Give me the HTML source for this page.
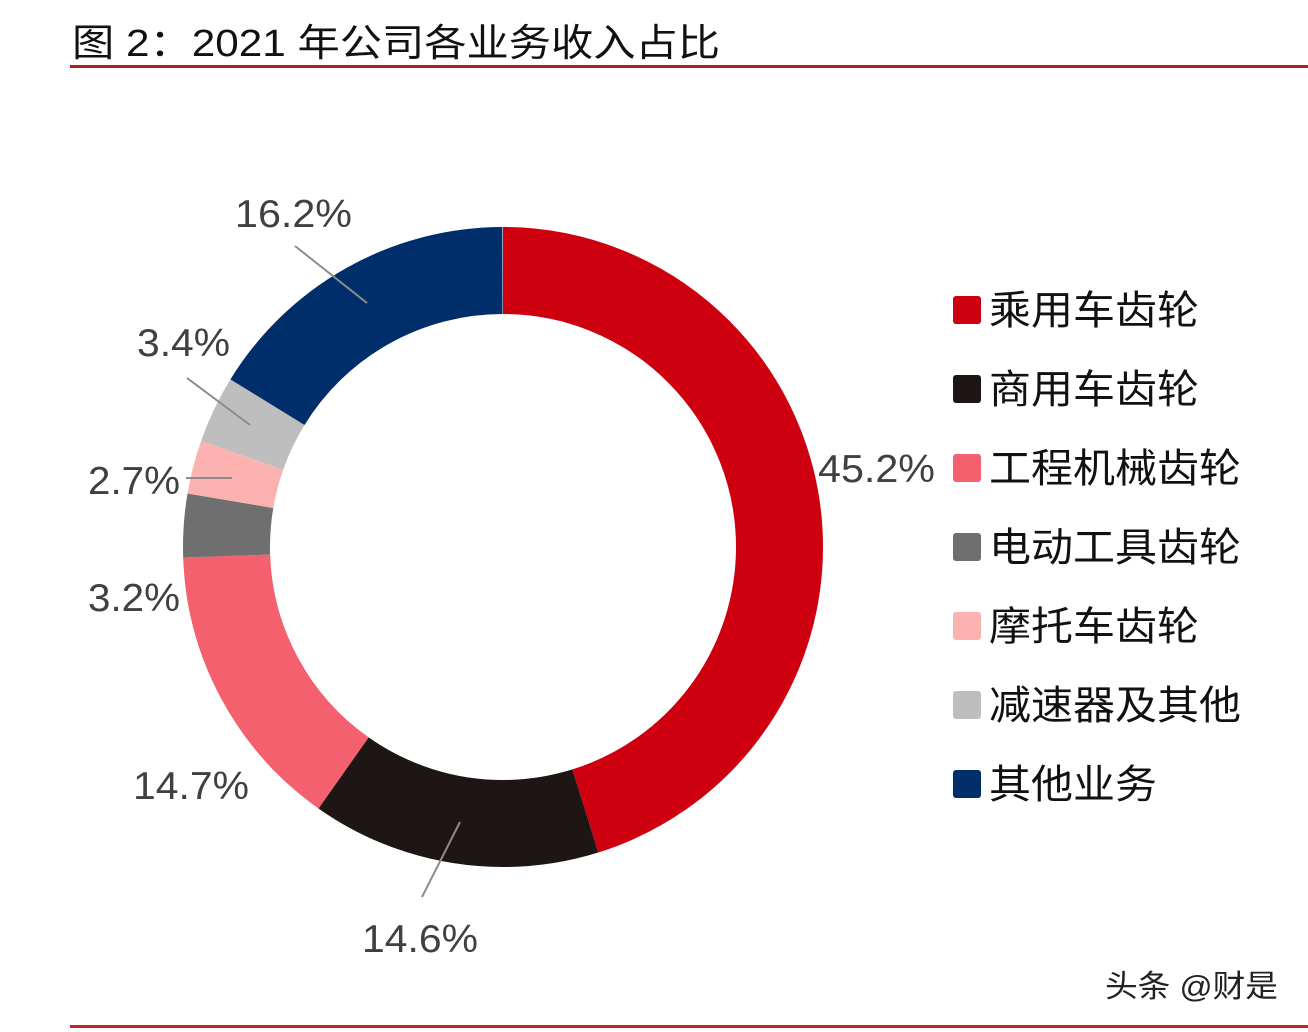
<!DOCTYPE html>
<html><head><meta charset="utf-8"><style>
html,body{margin:0;padding:0;background:#fff;}
body{width:1308px;height:1032px;position:relative;overflow:hidden;font-family:"Liberation Sans","Noto Sans CJK SC",sans-serif;}
</style></head><body>
<svg width="1308" height="1032" viewBox="0 0 1308 1032" xmlns="http://www.w3.org/2000/svg" style="position:absolute;left:0;top:0">
<text x="72" y="56" font-size="38" fill="#111" textLength="648" lengthAdjust="spacingAndGlyphs" font-family="Liberation Sans, Noto Sans CJK SC, sans-serif">图 2：2021 年公司各业务收入占比</text>
<rect x="70" y="65" width="1238" height="3" fill="#b01c22"/>
<rect x="70" y="1025" width="1238" height="3" fill="#c0262c"/>
<g transform="translate(503,547) rotate(-90)" fill="none" stroke-width="87">
<circle r="276.5" pathLength="100" stroke="#CE0010" stroke-dasharray="45.2 100" stroke-dashoffset="0"/>
<circle r="276.5" pathLength="100" stroke="#1E1614" stroke-dasharray="14.6 100" stroke-dashoffset="-45.2"/>
<circle r="276.5" pathLength="100" stroke="#F4606E" stroke-dasharray="14.7 100" stroke-dashoffset="-59.8"/>
<circle r="276.5" pathLength="100" stroke="#6F6F6F" stroke-dasharray="3.2 100" stroke-dashoffset="-74.5"/>
<circle r="276.5" pathLength="100" stroke="#FBB2B0" stroke-dasharray="2.7 100" stroke-dashoffset="-77.7"/>
<circle r="276.5" pathLength="100" stroke="#BEBEBE" stroke-dasharray="3.4 100" stroke-dashoffset="-80.4"/>
<circle r="276.5" pathLength="100" stroke="#002E6B" stroke-dasharray="16.2 100" stroke-dashoffset="-83.8"/>
</g>
<g stroke="#8c8c8c" stroke-width="2">
<line x1="295" y1="246" x2="367" y2="303"/>
<line x1="187" y1="378" x2="250" y2="425"/>
<line x1="186" y1="478" x2="232" y2="478"/>
<line x1="460" y1="822" x2="422" y2="897"/>
</g>
<g font-size="39" fill="#404040" font-family="Liberation Sans, sans-serif">
<text x="235" y="227" textLength="117" lengthAdjust="spacingAndGlyphs">16.2%</text>
<text x="137" y="356" textLength="93" lengthAdjust="spacingAndGlyphs">3.4%</text>
<text x="88" y="494" textLength="92" lengthAdjust="spacingAndGlyphs">2.7%</text>
<text x="88" y="611" textLength="92" lengthAdjust="spacingAndGlyphs">3.2%</text>
<text x="133" y="799" textLength="116" lengthAdjust="spacingAndGlyphs">14.7%</text>
<text x="362" y="952" textLength="116" lengthAdjust="spacingAndGlyphs">14.6%</text>
<text x="818" y="482" textLength="117" lengthAdjust="spacingAndGlyphs">45.2%</text>
</g>
<g font-size="40" fill="#111" font-family="Liberation Sans, Noto Sans CJK SC, sans-serif">
<rect x="953" y="296" width="28" height="28" rx="3" fill="#CE0010"/><text x="989" y="324" textLength="210" lengthAdjust="spacingAndGlyphs">乘用车齿轮</text>
<rect x="953" y="375" width="28" height="28" rx="3" fill="#1E1614"/><text x="989" y="403" textLength="210" lengthAdjust="spacingAndGlyphs">商用车齿轮</text>
<rect x="953" y="454" width="28" height="28" rx="3" fill="#F4606E"/><text x="989" y="482" textLength="252" lengthAdjust="spacingAndGlyphs">工程机械齿轮</text>
<rect x="953" y="533" width="28" height="28" rx="3" fill="#6F6F6F"/><text x="989" y="561" textLength="252" lengthAdjust="spacingAndGlyphs">电动工具齿轮</text>
<rect x="953" y="612" width="28" height="28" rx="3" fill="#FBB2B0"/><text x="989" y="640" textLength="210" lengthAdjust="spacingAndGlyphs">摩托车齿轮</text>
<rect x="953" y="691" width="28" height="28" rx="3" fill="#BEBEBE"/><text x="989" y="719" textLength="252" lengthAdjust="spacingAndGlyphs">减速器及其他</text>
<rect x="953" y="770" width="28" height="28" rx="3" fill="#002E6B"/><text x="989" y="798" textLength="168" lengthAdjust="spacingAndGlyphs">其他业务</text>
</g>
<text x="1105" y="997" font-size="31" fill="#222" textLength="173" lengthAdjust="spacingAndGlyphs" font-family="Liberation Sans, Noto Sans CJK SC, sans-serif">头条 @财是</text>
</svg>
</body></html>
